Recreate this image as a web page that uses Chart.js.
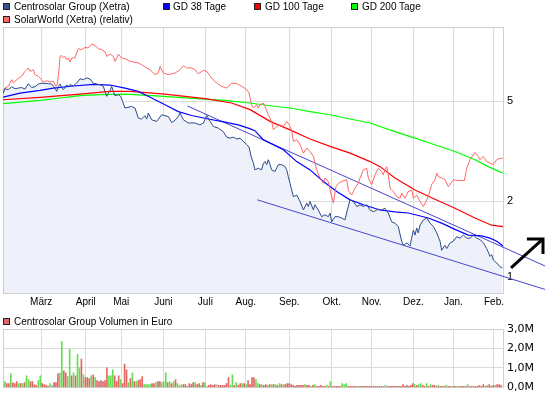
<!DOCTYPE html>
<html><head><meta charset="utf-8">
<script src="https://cdn.jsdelivr.net/npm/chart.js@4.4.0/dist/chart.umd.min.js"></script>
<style>
html,body{margin:0;padding:0;background:#fff;}
#wrap{position:relative;width:545px;height:398px;overflow:hidden;font-family:"Liberation Sans",Arial,sans-serif;font-size:10px;color:#000;}
canvas{position:absolute;left:0;}
.lg{position:absolute;height:12px;line-height:12px;white-space:nowrap;}
.sq{position:absolute;width:5px;height:5px;border:1px solid #222;}
</style></head><body>
<div id="wrap">
<canvas id="main" width="545" height="312" style="top:0;width:545px;height:312px"></canvas>
<canvas id="vol" width="545" height="84" style="top:314px;width:545px;height:84px"></canvas>
<div class="sq" style="left:3px;top:3px;background:#34558f"></div><div class="lg" style="left:14px;top:1px">Centrosolar Group (Xetra)</div>
<div class="sq" style="left:163px;top:3px;background:#0000ff"></div><div class="lg" style="left:173px;top:1px">GD 38 Tage</div>
<div class="sq" style="left:254px;top:3px;background:#ff0000"></div><div class="lg" style="left:265px;top:1px">GD 100 Tage</div>
<div class="sq" style="left:351px;top:3px;background:#00ff00"></div><div class="lg" style="left:362px;top:1px">GD 200 Tage</div>
<div class="sq" style="left:3px;top:16px;background:#ff6666"></div><div class="lg" style="left:14px;top:14px">SolarWorld (Xetra) (relativ)</div>
<div class="sq" style="left:3px;top:318px;background:#e06666"></div><div class="lg" style="left:14px;top:316px">Centrosolar Group Volumen in Euro</div>
</div>
<script>
// ---- data ----
const months = ['März','April','Mai','Juni','Juli','Aug.','Sep.','Okt.','Nov.','Dez.','Jan.','Feb.'];
const monthStart = [19.5,42.2,60.3,81.8,103.2,123.8,146,167.6,188,209.3,229.7,250.4];
const priceTicks = [1,2,5];
const volTicks = [0,1,2,3];

const csDay = [0,1.0,2.7,4.4,6.1,7.8,9.5,11.2,12.9,14.6,16.3,18.0,19.7,21.4,23.1,24.8,26.5,27.4,28.2,29.1,29.9,30.8,32.5,33.3,34.2,35.9,37.6,39.3,41.0,42.7,44.4,46.1,47.8,49.5,51.2,52.0,52.9,53.7,54.6,55.4,56.3,57.1,58.8,60.0,61.0,62.2,65.6,67.3,69.0,70.7,72.4,73.3,74.1,75.8,78.4,80.9,82.6,84.3,86.0,87.7,89.4,90.3,92.0,94.5,97.9,100.5,102.2,103.9,105.6,107.3,109.8,112.3,114.1,115.8,117.5,119.2,120.9,122.6,124.3,125.5,126.5,127.7,128.5,130.2,131.9,132.7,133.6,134.5,135.3,136.2,137.0,138.7,140.4,142.1,143.8,144.7,145.5,146.4,147.2,148.1,149.8,151.5,153.2,154.9,155.7,156.6,158.3,159.1,160.8,162.5,164.2,165.9,166.8,167.6,169.3,171.0,172.7,174.4,175.6,177.0,178.7,180.4,182.1,183.8,185.5,187.2,188.9,190.6,191.4,193.1,194.8,196.5,198.2,199.9,201.6,203.3,204.2,205.9,207.6,208.4,209.3,210.1,211.0,211.8,212.7,214.4,216.1,217.8,219.5,221.2,222.9,223.7,225.4,226.3,228.0,229.7,231.4,233.1,234.8,236.5,238.2,239.9,241.6,243.3,245.0,246.7,248.4,249.2,250.1,251.8,253.5,254.7];
const csPrice = [5.36,5.61,5.56,5.71,5.61,5.64,5.67,5.59,5.87,5.67,5.71,5.85,5.89,5.89,5.87,5.85,5.64,5.47,5.73,5.85,5.67,5.56,5.80,5.73,5.82,5.76,5.91,6.14,6.09,6.19,6.13,5.89,5.85,5.82,5.73,5.47,5.23,5.39,5.51,5.73,5.47,5.26,5.31,5.23,4.99,4.70,4.77,4.70,4.29,4.25,4.38,4.25,4.49,4.22,4.16,4.42,4.38,4.35,4.12,4.20,4.35,4.49,4.22,4.10,4.10,4.03,4.10,4.39,4.16,3.97,3.91,3.79,3.60,3.57,3.60,3.54,3.57,3.46,3.36,3.29,3.02,2.84,2.67,2.71,2.67,2.82,2.88,2.80,2.93,2.80,2.67,2.63,2.80,2.80,2.75,2.67,2.51,2.36,2.22,2.09,2.12,2.00,1.85,1.97,1.91,2.00,1.85,1.94,1.85,1.74,1.77,1.74,1.80,1.66,1.74,1.74,1.72,1.69,1.85,2.03,2.00,1.91,1.94,1.91,1.94,1.85,1.82,1.85,1.86,1.85,1.88,1.80,1.66,1.64,1.59,1.39,1.34,1.37,1.33,1.43,1.54,1.47,1.57,1.50,1.61,1.69,1.72,1.64,1.59,1.50,1.39,1.28,1.34,1.30,1.37,1.39,1.45,1.43,1.47,1.43,1.43,1.47,1.43,1.41,1.37,1.30,1.21,1.23,1.17,1.14,1.10,1.09];

const swDay = [0,1.0,2.7,4.4,5.3,7.0,8.7,9.5,11.2,12.9,13.8,15.5,16.3,18.0,19.7,20.6,22.3,24.0,25.7,27.0,27.7,28.4,29.1,29.9,30.8,31.6,32.5,33.3,34.2,35.0,36.7,37.6,38.4,40.1,41.8,43.5,45.2,46.9,48.6,50.3,52.0,52.9,54.6,56.3,57.1,58.0,58.8,60.5,62.2,64.8,69.0,70.7,73.3,75.0,77.5,79.2,80.1,81.8,84.3,87.7,90.3,92.0,93.7,96.2,97.9,99.6,102.2,103.9,106.4,108.9,111.5,114.1,116.6,119.2,121.8,124.3,125.5,126.8,127.7,128.5,129.4,130.2,131.1,132.7,133.6,135.3,137.0,137.9,139.6,141.3,143.0,144.7,146.0,147.2,148.1,149.8,151.5,153.2,154.9,156.6,158.3,160.0,161.7,163.4,164.2,165.9,166.8,168.5,169.8,171.0,172.7,175.3,176.1,177.8,179.5,181.2,182.1,183.8,185.5,186.3,188.0,189.7,191.4,193.1,193.9,194.8,195.7,196.5,197.4,198.2,199.1,200.8,202.5,203.3,205.0,206.7,208.4,209.3,211.0,212.7,214.4,216.1,216.9,218.6,220.3,221.2,222.0,223.7,225.4,227.1,229.7,232.2,235.3,236.5,238.2,240.7,242.4,243.3,245.0,246.7,248.4,250.1,251.8,253.5,254.7];
const swRel = [5.43,5.65,5.73,6.09,5.91,6.09,6.22,6.28,6.57,6.78,6.57,6.67,6.38,6.28,6.09,5.96,6.03,5.96,6.00,5.73,5.85,6.47,7.54,7.60,7.43,7.54,7.31,7.43,7.16,7.43,7.43,7.78,8.09,8.01,8.18,8.14,8.44,8.33,8.09,8.01,7.89,7.54,7.70,7.54,7.20,7.43,7.70,7.43,7.38,7.20,7.10,6.98,6.78,6.67,6.38,6.47,6.88,6.47,6.38,6.47,6.67,6.92,6.78,6.78,6.67,6.43,6.63,6.57,6.18,5.91,5.73,5.64,5.91,5.87,5.73,5.56,5.39,4.84,4.70,4.77,4.84,4.70,4.84,4.92,4.77,4.42,4.16,3.85,3.97,4.03,3.97,4.16,4.03,3.85,3.46,3.52,3.36,3.11,3.26,3.16,3.02,2.67,2.48,2.36,2.48,2.40,2.22,1.97,2.29,2.36,2.40,2.44,2.22,2.12,2.26,2.36,2.48,2.67,2.71,2.48,2.33,2.55,2.71,2.63,2.55,2.67,2.75,2.55,2.26,2.22,2.19,2.09,2.06,2.16,2.06,2.19,2.22,2.06,2.12,2.00,1.91,2.03,2.09,2.33,2.44,2.59,2.51,2.48,2.44,2.29,2.44,2.42,2.42,2.71,2.93,3.13,3.02,2.93,3.02,2.88,2.84,2.80,2.93,2.97,2.97];

const gd38Day = [0,8.7,18.9,25.7,35.9,46.1,54.6,62.2,69.0,75.8,82.6,89.4,96.2,104.7,113.2,120.0,125.1,128.5,132.7,143.0,149.8,156.6,163.4,170.2,177.0,183.8,192.3,199.9,206.7,216.9,223.7,230.5,237.3,244.1,248.4,251.8,255];
const gd38 = [5.19,5.39,5.52,5.64,5.75,5.84,5.80,5.64,5.47,5.15,4.84,4.55,4.39,4.25,4.13,4.03,3.91,3.82,3.52,3.21,2.88,2.67,2.40,2.19,2.03,1.94,1.85,1.82,1.80,1.72,1.64,1.55,1.47,1.46,1.43,1.39,1.33];
const gd100Day = [0,18.9,39.3,54.6,64.8,82.6,92.8,103.0,116.6,126.0,136.2,146.4,156.6,166.8,177.0,187.2,192.3,199.9,210.1,220.3,230.5,240.7,249.2,255];
const gd100 = [5.07,5.18,5.34,5.47,5.47,5.34,5.23,5.12,4.92,4.63,4.16,3.85,3.54,3.31,3.11,2.88,2.75,2.48,2.22,2.04,1.88,1.72,1.61,1.59];
const gd200Day = [0,8.7,18.9,29.1,39.3,49.5,62.2,75.8,89.4,103.0,113.2,126.0,136.2,146.4,156.6,166.8,177.0,187.2,199.9,210.1,220.3,230.5,240.7,247.5,255];
const gd200 = [4.89,4.96,5.04,5.15,5.26,5.31,5.34,5.26,5.18,5.10,5.04,4.92,4.80,4.70,4.55,4.42,4.25,4.10,3.79,3.57,3.36,3.16,2.93,2.75,2.59];

const trendUpperDay = [94.0,276.4];
const trendUpper = [4.79,1.109];
const trendLowerDay = [129.7,276.4];
const trendLower = [2.03,0.895];

// arrow annotation (points listed so the library keeps every one beyond the axis end)
const arrowShaftDay = [275.4,259.1];
const arrowShaftVal = [1.42,1.089];
const arrowHeadDay = [275.4,275.4,267.2];
const arrowHeadVal = [1.238,1.42,1.42];

// volume in Mio. Euro per trading day, and day direction (u=up, d=down, n=unchanged)
const volumeMio = [
0.2,0.3,0.2,0.2,0.7,0.23,0.2,0.3,0.2,0.2,
0.2,0.25,0.6,0.4,0.3,0.3,0.15,0.1,0.35,0.6,
0.2,0.15,0.1,0.05,0.2,0.1,0.25,0.25,0.7,0.75,
2.35,0.85,0.75,0.55,1.95,0.6,0.75,0.6,1.7,1.0,
1.45,0.65,0.5,0.5,0.45,0.6,0.65,0.5,0.35,0.3,
0.35,0.3,0.35,1.0,0.6,0.6,0.9,0.6,0.3,0.6,
0.4,0.2,1.2,0.9,0.25,0.45,0.75,0.3,0.3,0.35,
0.4,0.55,0.15,0.15,0.15,0.15,0.2,0.2,0.25,0.3,
0.3,0.25,0.3,0.75,0.25,0.3,0.2,0.3,0.4,0.2,
0.1,0.15,0.15,0.15,0.05,0.2,0.15,0.25,0.25,0.15,
0.2,0.1,0.25,0.25,0.05,0.1,0.15,0.1,0.15,0.15,
0.1,0.1,0.1,0.1,0.2,0.5,0.1,0.65,0.1,0.25,
0.1,0.2,0.2,0.2,0.15,0.35,0.15,0.5,0.5,
0.4,0.2,0.15,0.15,0.1,0.15,0.1,0.15,0.15,0.15,
0.15,0.1,0.2,0.15,0.15,0.15,0.2,0.2,0.15,0.1,
0.05,0.1,0.1,0.1,0.1,0.15,0.1,0.1,0.05,0.1,
0.15,0.05,0.05,0.1,0.05,0.05,0.1,0.05,0.3,0.05,
0.05,0.05,0.05,0.05,0.2,0.15,0.2,0.05,0.05,0.05,
0.05,0.05,0.05,0.05,0.05,0.05,0.05,0.05,0.05,0.05,
0.05,0.05,0.05,
0.05,0.05,0.05,0.1,0.05,0.05,0.05,0.05,0.05,0.05,
0.05,0.05,0.15,0.05,0.1,0.05,0.1,0.2,0.15,0.1,
0.15,0.2,0.1,0.05,0.2,0.05,0.15,0.1,0.1,0.05,
0.1,0.05,0.05,0.05,0.1,0.05,0.05,0.05,0.05,0.05,
0.05,0.05,0.05,0.05,0.05,0.15,0.05,0.05,0.05,0.05,
0.05,0.1,0.05,0.15,0.05,0.1,0.15,0.05,0.1,0.1,
0.15,0.15,0.1];
const volumeDir =
 'nuddudddud'+'uduudddduu'+'ddddundddu'+'udduududuu'+'dudddududd'+'dddduuuddd'+'udddududud'+'dduuuuddud'+'duuudududu'+'uuddudddud'+'duduuddddn'+'dddddduudu'+'ddududddd'+
 'uududdudud'+'udududdddd'+'ddddduddud'+'udddddudud'+'dddduuuddd'+'dduddddddd'+'ddd'+'dduudddddd'+'ddddddddud'+'uuddududdd'+'uddduddudd'+'uddddudddd'+'dddddudddu'+'ddd';

// ---- helpers ----
const zip = (xs, ys) => xs.map((x, i) => ({x: x, y: ys[i]}));
const FONT = '"Liberation Sans", Arial, sans-serif';
const GRID = '#dcdcdc';

const framePlugin = {
  id: 'frame',
  beforeDatasetsDraw(chart) {
    const {ctx, chartArea: a} = chart;
    ctx.save();
    ctx.strokeStyle = '#d0d0d0';
    ctx.lineWidth = 1;
    ctx.strokeRect(Math.round(a.left) + 0.5, Math.round(a.top) + 0.5, Math.round(a.right - a.left), Math.round(a.bottom - a.top));
    ctx.restore();
  }
};

const lineDs = (label, data, color, width, extra) => Object.assign({
  label, data, borderColor: color, borderWidth: width, pointRadius: 0, tension: 0, fill: false
}, extra || {});

new Chart(document.getElementById('main'), {
  type: 'line',
  data: {
    datasets: [
      lineDs('Pfeil', zip(arrowShaftDay, arrowShaftVal), '#000000', 3, {clip: false}),
      lineDs('Pfeilspitze', zip(arrowHeadDay, arrowHeadVal), '#000000', 3, {clip: false, borderJoinStyle: 'miter'}),
      lineDs('Centrosolar Group (Xetra)', zip(csDay, csPrice), '#2b4b8b', 1, {fill: 'start', backgroundColor: '#eef1f9'}),
      lineDs('SolarWorld (Xetra) (relativ)', zip(swDay, swRel), '#ff6666', 1),
      lineDs('GD 38 Tage', zip(gd38Day, gd38), '#0000ff', 1.2),
      lineDs('GD 100 Tage', zip(gd100Day, gd100), '#ff0000', 1.2),
      lineDs('GD 200 Tage', zip(gd200Day, gd200), '#00ff00', 1.2),
      lineDs('Trend oben', zip(trendUpperDay, trendUpper), '#4646cc', 1, {clip: false}),
      lineDs('Trend unten', zip(trendLowerDay, trendLower), '#4646cc', 1, {clip: false})
    ]
  },
  options: {
    responsive: false, animation: false, devicePixelRatio: 1, events: [],
    layout: {padding: {top: 27, left: 3, right: 0, bottom: 0}},
    plugins: {legend: {display: false}, tooltip: {enabled: false}, filler: {drawTime: 'beforeDatasetsDraw'}},
    scales: {
      x: {
        type: 'linear', min: 0, max: 255, position: 'bottom',
        afterBuildTicks: s => { s.ticks = monthStart.map(v => ({value: v})); },
        afterFit: s => { s.height = 19; },
        grid: {color: GRID, drawTicks: false}, border: {display: false},
        ticks: {autoSkip: false, maxRotation: 0, padding: 3, color: '#000', font: {family: FONT, size: 10},
          callback: (v, i) => months[i]}
      },
      y: {
        type: 'logarithmic', position: 'right', min: 0.866, max: 9.86,
        afterBuildTicks: s => { s.ticks = priceTicks.map(v => ({value: v})); },
        afterFit: s => { s.width = 42; },
        grid: {color: GRID, drawTicks: false}, border: {display: false},
        ticks: {padding: 4, color: '#000', font: {family: FONT, size: 11}, callback: v => String(v)}
      }
    }
  },
  plugins: [framePlugin]
});

const dirColor = {u: '#66dd55', d: '#e06666', n: '#bbbbbb'};
new Chart(document.getElementById('vol'), {
  type: 'bar',
  data: {
    datasets: [{
      label: 'Centrosolar Group Volumen in Euro',
      data: volumeMio.map((v, i) => ({x: i, y: v})),
      backgroundColor: volumeMio.map((v, i) => dirColor[volumeDir[i]] || '#e06666'),
      barThickness: 1, borderWidth: 0
    }]
  },
  options: {
    responsive: false, animation: false, devicePixelRatio: 1, events: [],
    layout: {padding: {top: 15, left: 3, right: 0, bottom: 0}},
    plugins: {legend: {display: false}, tooltip: {enabled: false}},
    scales: {
      x: {
        type: 'linear', min: 0, max: 255, offset: false,
        afterBuildTicks: s => { s.ticks = monthStart.map(v => ({value: v})); },
        afterFit: s => { s.height = 9; },
        grid: {color: GRID, drawTicks: false, offset: false}, border: {display: false},
        ticks: {display: false}
      },
      y: {
        type: 'linear', position: 'right', min: 0, max: 3,
        afterBuildTicks: s => { s.ticks = volTicks.map(v => ({value: v})); },
        afterFit: s => { s.width = 42; },
        grid: {color: GRID, drawTicks: false}, border: {display: false},
        ticks: {padding: 4, color: '#000', font: {family: '"DejaVu Sans", sans-serif', size: 11},
          callback: v => v.toFixed(1).replace('.', ',') + 'M'}
      }
    }
  },
  plugins: [framePlugin]
});
</script>
</body></html>
